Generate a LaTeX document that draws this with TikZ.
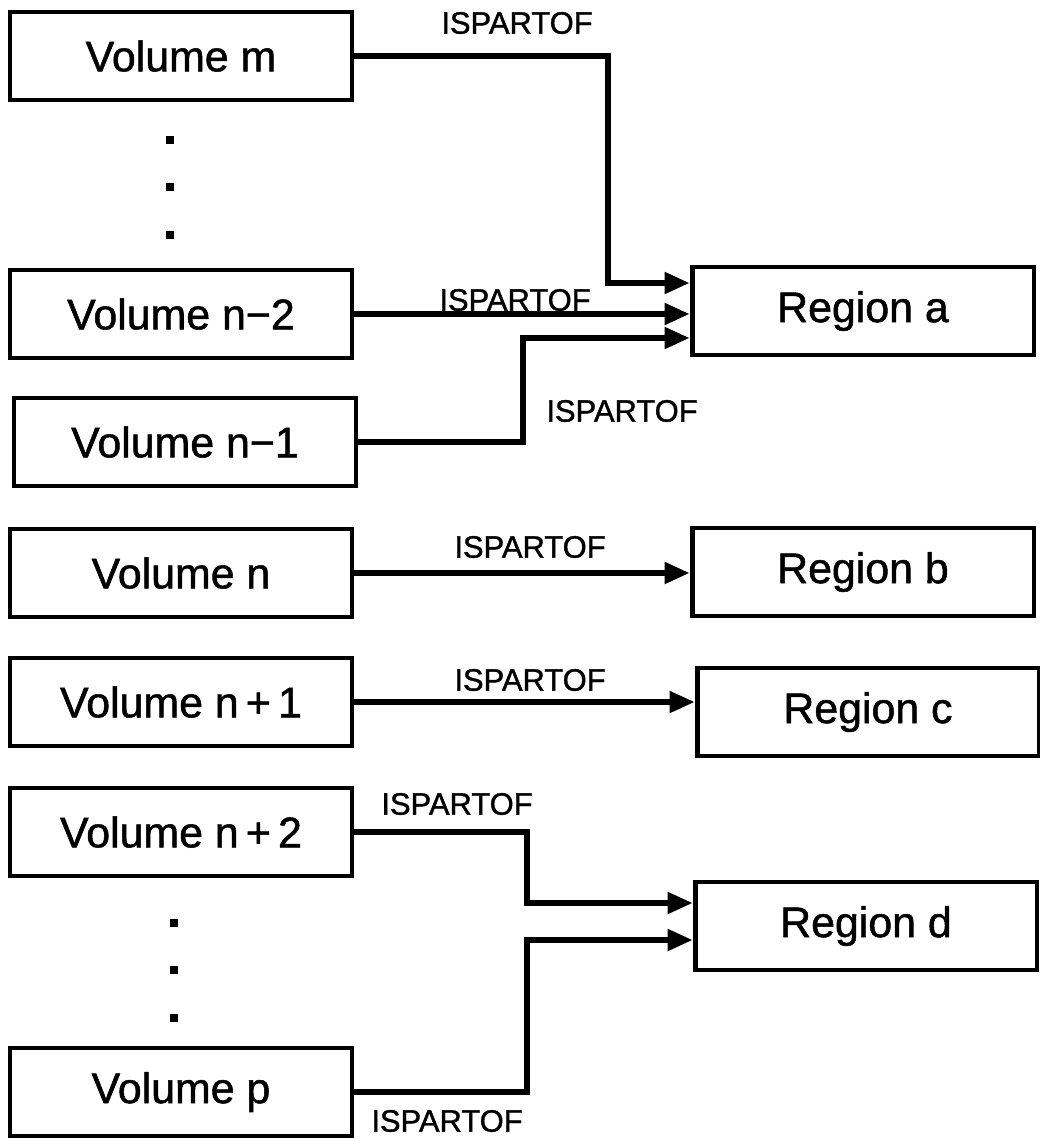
\documentclass[tikz,border=0pt]{standalone}
\usepackage{fontspec}
\setmainfont{Liberation Sans}[BoldFont=Liberation Sans, BoldFeatures={FakeBold=1.2}]
\usetikzlibrary{arrows.meta}

\begin{document}
\begin{tikzpicture}[
        x=0.02cm, y=-0.02cm,
        vol/.style={rectangle, draw, line width=2.8pt, minimum width=6.84cm, minimum height=1.76cm, inner sep=0pt, font=\fontsize{24.4}{28}\selectfont\bfseries},
        rel/.style={inner sep=0pt, font=\fontsize{17.6}{20}\selectfont\bfseries},
        link/.style={line width=3pt, -{Triangle[length=0.5cm, width=0.42cm]}},
        vdot/.style={rectangle, fill=black, minimum size=0.16cm, inner sep=0pt},
    ]
    \useasboundingbox (0,0) rectangle (1039,1139);

    % Volumes
    \node[vol] (vm) at (181,56) {Volume m};
    \node[vdot] (d1) at (170,140) {}; \node[vdot] (d2) at (170,187) {}; \node[vdot] (d3) at (170,235) {};
    \node[vol] (vn2m) at (181,314) {Volume n−2};
    \node[vol] (vn1m) at (185,442) {Volume n−1};
    \node[vol] (vn) at (181,573) {Volume n};
    \node[vol] (vn1p) at (181,702) {Volume n\,+\,1};
    \node[vol] (vn2p) at (181,832) {Volume n\,+\,2};
    \node[vdot] (d4) at (174,923) {}; \node[vdot] (d5) at (174,970) {}; \node[vdot] (d6) at (174,1018) {};
    \node[vol] (vp) at (181,1092) {Volume p};

    % Regions
    \node[vol] (ra) at (863,311) {Region a};
    \node[vol] (rb) at (863,572) {Region b};
    \node[vol] (rc) at (868,712) {Region c};
    \node[vol] (rd) at (866,926) {Region d};

    % ISPARTOF
    \draw[link] (vm.east) -| (608,283) -- (ra.west |- 0,283);
    \draw[link] (vn2m.east) -- (ra.west |- vn2m.east);
    \draw[link] (vn1m.east) -| (523,338) -- (ra.west |- 0,338);
    \draw[link] (vn.east) -- (rb.west |- vn.east);
    \draw[link] (vn1p.east) -- (rc.west |- vn1p.east);
    \draw[link] (vn2p.east) -| (527,903) -- (rd.west |- 0,903);
    \draw[link] (vp.east) -| (527,940) -- (rd.west |- 0,940);

    \node[rel] (l1) at (517,23) {ISPARTOF};
    \node[rel] (l2) at (515,300) {ISPARTOF};
    \node[rel] (l3) at (622,411) {ISPARTOF};
    \node[rel] (l4) at (530,547) {ISPARTOF};
    \node[rel] (l5) at (530,680) {ISPARTOF};
    \node[rel] (l6) at (457,804) {ISPARTOF};
    \node[rel] (l7) at (447,1121) {ISPARTOF};
\end{tikzpicture}
\end{document}
